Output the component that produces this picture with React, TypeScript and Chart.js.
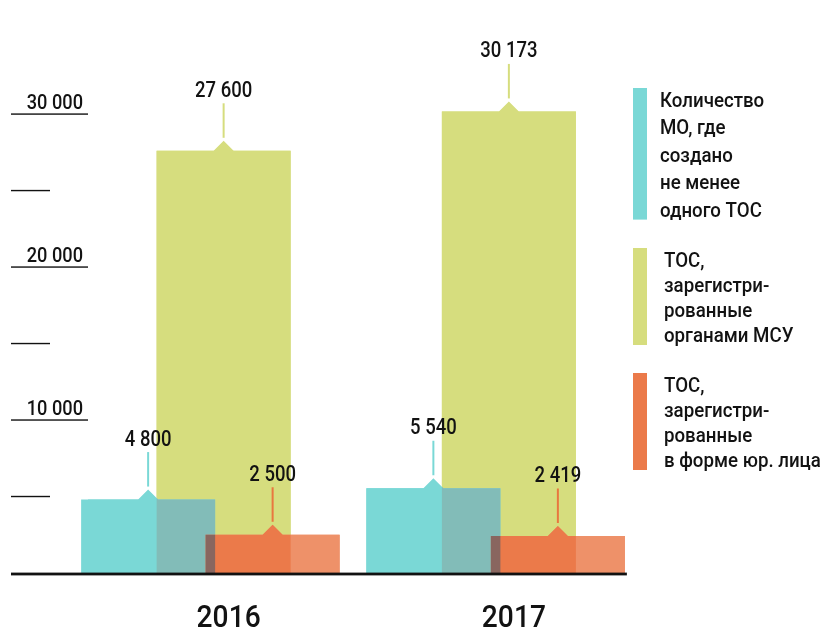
import React, { useEffect, useRef } from 'react';
import { Chart, registerables } from 'chart.js';

Chart.register(...registerables);

// ---- data ----
const years = ['2016', '2017'];
const municipalitiesWithTos = [4800, 5540];
const tosRegisteredByLocalGov = [27600, 30173];
const tosLegalEntities = [2500, 2419];
const yTickValues = [5000, 10000, 15000, 20000, 25000, 30000];
const yLabelStep = 10000;

const seriesNames: string[][] = [
  ['Количество', 'МО, где', 'создано', 'не менее', 'одного ТОС'],
  ['ТОС,', 'зарегистри-', 'рованные', 'органами МСУ'],
  ['ТОС,', 'зарегистри-', 'рованные', 'в форме юр. лица'],
];

// ---- styling ----
const INK = '#121212';
const FONT = 'Roboto, "Noto Sans", sans-serif';
const CYAN = '#7AD8D6';
const GREEN = '#D6DD7E';
const ORANGE_LIGHT = '#EE9169';
const ORANGE_SOLID = '#EB7A4A';
const TEAL_GREY = '#82BCB8';
const DARK_OVERLAP = '#89665F';
const baseColors = [CYAN, GREEN, ORANGE_LIGHT];
const calloutColors = [CYAN, GREEN, '#E8773F'];
const legendColors = [CYAN, GREEN, ORANGE_SOLID];
const seriesShift = [-82.5, -7, 42];
const NOTCH = 10;

const fmt = (v: number) => String(v).replace(/\B(?=(\d{3})+(?!\d))/g, ' ');

function condensedText(
  ctx: CanvasRenderingContext2D,
  text: string,
  x: number,
  y: number,
  size: number,
  align: CanvasTextAlign,
  sx: number
) {
  ctx.save();
  ctx.font = `500 ${size}px ${FONT}`;
  ctx.textAlign = align;
  ctx.textBaseline = 'alphabetic';
  ctx.fillStyle = INK;
  ctx.translate(x, y);
  ctx.scale(sx, 1);
  ctx.fillText(text, 0, 0);
  ctx.restore();
}

type Box = { l: number; r: number; t: number; b: number; cx: number };

function barBox(el: any): Box {
  const p = el.getProps(['x', 'y', 'base', 'width'], true);
  return {
    l: p.x - p.width / 2,
    r: p.x + p.width / 2,
    t: Math.min(p.y, p.base),
    b: Math.max(p.y, p.base),
    cx: p.x,
  };
}

function fillShape(ctx: CanvasRenderingContext2D, box: Box, color: string) {
  ctx.beginPath();
  ctx.moveTo(box.l, box.b);
  ctx.lineTo(box.l, box.t);
  ctx.lineTo(box.cx - NOTCH, box.t);
  ctx.lineTo(box.cx, box.t - NOTCH);
  ctx.lineTo(box.cx + NOTCH, box.t);
  ctx.lineTo(box.r, box.t);
  ctx.lineTo(box.r, box.b);
  ctx.closePath();
  ctx.fillStyle = color;
  ctx.fill();
}

function clipTo(ctx: CanvasRenderingContext2D, box: Box) {
  ctx.beginPath();
  ctx.rect(box.l, box.t, box.r - box.l, box.b - box.t);
  ctx.clip();
}

// shifts each series sideways inside its year so the bars overlap
const shiftPlugin = {
  id: 'seriesShift',
  afterDatasetsUpdate(chart: any) {
    chart.data.datasets.forEach((_: any, d: number) => {
      chart.getDatasetMeta(d).data.forEach((el: any) => {
        el.x += seriesShift[d];
      });
    });
  },
};

// notches, overlap tints and value callouts
const barDecorPlugin = {
  id: 'barDecor',
  afterDatasetsDraw(chart: any) {
    const ctx: CanvasRenderingContext2D = chart.ctx;
    const boxes: Box[][] = [0, 1, 2].map((d) => chart.getDatasetMeta(d).data.map(barBox));
    ctx.save();
    [1, 0, 2].forEach((d) => boxes[d].forEach((b) => fillShape(ctx, b, baseColors[d])));
    years.forEach((_, i) => {
      const c = boxes[0][i];
      const g = boxes[1][i];
      const o = boxes[2][i];
      ctx.save();
      clipTo(ctx, g);
      fillShape(ctx, c, TEAL_GREY);
      fillShape(ctx, o, ORANGE_SOLID);
      clipTo(ctx, c);
      fillShape(ctx, o, DARK_OVERLAP);
      ctx.restore();
    });
    const values = [municipalitiesWithTos, tosRegisteredByLocalGov, tosLegalEntities];
    boxes.forEach((list, d) =>
      list.forEach((b, i) => {
        ctx.strokeStyle = calloutColors[d];
        ctx.lineWidth = 2;
        ctx.beginPath();
        ctx.moveTo(b.cx, b.t - 47.5);
        ctx.lineTo(b.cx, b.t - 13);
        ctx.stroke();
        condensedText(ctx, fmt(values[d][i]), b.cx, b.t - 54, 21.5, 'center', 0.86);
      })
    );
    ctx.restore();
  },
};

// axis marks, baseline, year captions and the legend
const framePlugin = {
  id: 'frame',
  afterDraw(chart: any) {
    const ctx: CanvasRenderingContext2D = chart.ctx;
    const y = chart.scales.y;
    const x = chart.scales.x;
    const area = chart.chartArea;
    ctx.save();
    yTickValues.forEach((v) => {
      const py = y.getPixelForValue(v);
      const major = v % yLabelStep === 0;
      ctx.fillStyle = INK;
      ctx.fillRect(11, py - 0.7, (major ? area.left : 50) - 11, 1.4);
      if (major) condensedText(ctx, fmt(v), 83, py - 5.5, 20, 'right', 0.91);
    });

    const boxes: Box[] = chart.data.datasets.flatMap((_: any, d: number) =>
      chart.getDatasetMeta(d).data.map(barBox)
    );
    const right = Math.max(...boxes.map((b) => b.r));
    const y0 = y.getPixelForValue(0);
    ctx.fillStyle = INK;
    ctx.fillRect(11, y0 - 0.4, right - 11 + 2, 2.8);

    years.forEach((label, i) => {
      condensedText(ctx, label, x.getPixelForValue(i) - 2, 627, 32, 'center', 0.88);
    });

    const tops = [88, 248, 373];
    const gaps = [27.4, 25, 25];
    const textX = [660, 664, 664];
    seriesNames.forEach((lines, k) => {
      const h = (lines.length - 1) * gaps[k] + 22;
      ctx.fillStyle = legendColors[k];
      ctx.fillRect(633, tops[k], 14, h);
      lines.forEach((line, j) => {
        condensedText(ctx, line, textX[k], tops[k] + 19 + j * gaps[k], 21, 'left', 0.89);
      });
    });
    ctx.restore();
  },
};

export default function App() {
  const canvasRef = useRef<HTMLCanvasElement | null>(null);

  useEffect(() => {
    if (!canvasRef.current) return;
    const chart = new Chart(canvasRef.current, {
      type: 'bar',
      data: {
        labels: years,
        datasets: [
          { label: seriesNames[0].join(' '), data: municipalitiesWithTos, backgroundColor: CYAN, order: 2 },
          { label: seriesNames[1].join(' '), data: tosRegisteredByLocalGov, backgroundColor: GREEN, order: 3 },
          { label: seriesNames[2].join(' '), data: tosLegalEntities, backgroundColor: ORANGE_LIGHT, order: 1 },
        ],
      },
      options: {
        responsive: false,
        animation: false,
        events: [],
        datasets: {
          bar: { grouped: false, barThickness: 134, borderWidth: 0, inflateAmount: 0 } as any,
        },
        layout: { padding: { left: 88, right: 169.5, top: 7, bottom: 56 } },
        plugins: { legend: { display: false }, tooltip: { enabled: false } },
        scales: {
          x: { display: false, offset: true },
          y: { display: false, min: 0, max: 37000 },
        },
      },
      plugins: [shiftPlugin, barDecorPlugin, framePlugin],
    });
    return () => chart.destroy();
  }, []);

  return (
    <div style={{ position: 'fixed', left: 0, top: 0, width: 828, height: 629, background: '#fff' }}>
      <canvas ref={canvasRef} width={828} height={629} />
    </div>
  );
}
